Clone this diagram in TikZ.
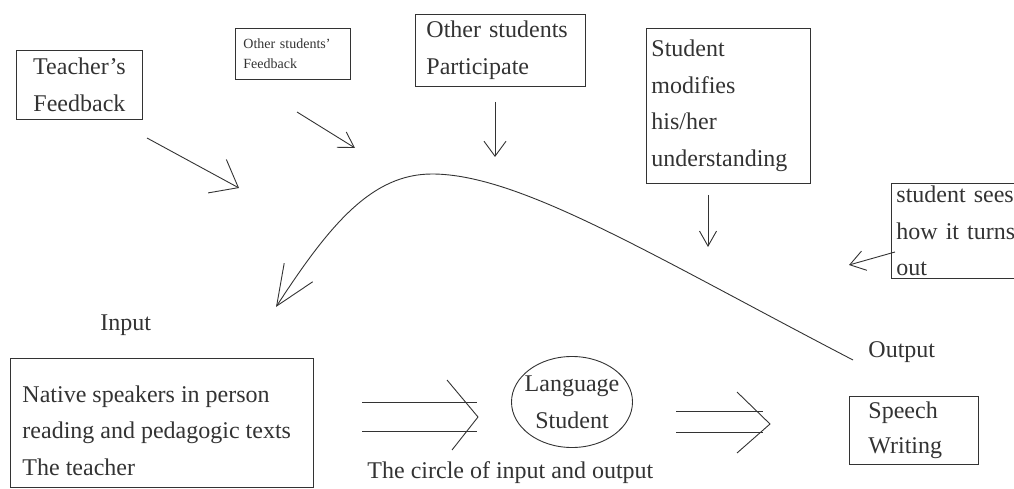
\documentclass[tikz,border=0pt]{standalone}
\usepackage{fontspec}
\setmainfont{Liberation Serif}
\usetikzlibrary{arrows.meta,shapes.geometric}

\begin{document}
\begin{tikzpicture}[x=1pt,y=-1pt,line width=0.9pt,color=black!80,
    box/.style ={draw, inner ysep=0pt, anchor=north west, align=left,
                 font=\fontsize{24}{36.5}\selectfont},
    lbl/.style ={anchor=base west, inner sep=0pt, font=\fontsize{24}{29}\selectfont}]
  \useasboundingbox (0,0) rectangle (1014,489);

  % boxes round the top
  \node[box, align=center, inner xsep=0pt, minimum width=126pt, minimum height=69pt,
        font=\fontsize{24}{37}\selectfont] (teacher) at (16,50) {Teacher's\\Feedback};
  \node[box, text width=99pt, inner xsep=8pt, minimum height=51pt,
        font=\fontsize{14}{20}\selectfont] (ofeed) at (235,28) {Other students'\\Feedback};
  \node[box, text width=148pt, inner xsep=11pt, minimum height=72pt,
        font=\fontsize{24}{37}\selectfont] (partic) at (415,14) {Other students\\Participate};
  \node[box, text width=154pt, inner xsep=5pt, minimum height=155pt]
        (modify) at (646,28) {Student\\modifies\\his/her\\understanding};
  \node[box, text width=139pt, inner xsep=5pt, minimum height=95pt]
        (sees) at (891,183) {student sees\\how it turns\\out};

  % input, student, output
  \node[lbl] (input) at (100,330) {Input};
  \node[box, minimum width=303pt, minimum height=129pt] (inbox) at (10,358) {};
  \node[anchor=west, align=left, inner sep=0pt, font=\fontsize{24}{36.5}\selectfont]
        (intext) at ([xshift=12pt,yshift=-7.5pt]inbox.west)
        {Native speakers in person\\reading and pedagogic texts\\The teacher};
  \node[ellipse, draw, minimum width=121pt, minimum height=91pt, inner sep=-8pt,
        align=center, font=\fontsize{24}{37}\selectfont] (lang) at (572,402) {Language\\Student};
  \node[lbl] (caption) at (367,478) {The circle of input and output};
  \node[lbl] (output) at (868,357) {Output};
  \node[box, text width=91pt, inner xsep=19pt, minimum height=68pt,
        font=\fontsize{24}{35}\selectfont] (speech) at (849,396) {Speech\\Writing};

  % free ends of the small arrows
  \coordinate (teachA) at (147,138);  \coordinate (teachB) at (239,188);
  \coordinate (ofeedA) at (297,112);  \coordinate (ofeedB) at (355,148);
  \coordinate (particA) at (495,102); \coordinate (particB) at (495,157);
  \coordinate (modifyA) at (708,195); \coordinate (modifyB) at (708,247);
  \coordinate (seesA) at (895,252);   \coordinate (seesB) at (849,265);

  \draw[-{Straight Barb[length=24pt,width=38pt]}] (teachA) -- (teachB);
  \draw[-{Straight Barb[length=15pt,width=18pt]}] (ofeedA) -- (ofeedB);
  \draw[-{Straight Barb[length=15pt,width=22pt]}] (particA) -- (particB);
  \draw[-{Straight Barb[length=15pt,width=17pt]}] (modifyA) -- (modifyB);
  \draw[-{Straight Barb[length=15pt,width=20pt]}] (seesA) -- (seesB);

  % the big loop from output back to input
  \coordinate (loopA) at (853,360);
  \coordinate (peak) at (432,174);
  \coordinate (loopB) at (276,307);
  \draw[-{Straight Barb[length=40pt,width=34pt]}] (loopA)
      .. controls (653,256) and (520,174) .. (peak)
      .. controls (372,174) and (330,224) .. (loopB);

  % double arrows
  \coordinate (inA1) at (362,402); \coordinate (inB1) at (477,402);
  \coordinate (inA2) at (362,431); \coordinate (inB2) at (477,431);
  \draw (inA1) -- (inB1);
  \draw (inA2) -- (inB2);
  \draw (447,380) -- (478,417) -- (452,450);
  \coordinate (outA1) at (676,411); \coordinate (outB1) at (763,411);
  \coordinate (outA2) at (676,432); \coordinate (outB2) at (763,432);
  \draw (outA1) -- (outB1);
  \draw (outA2) -- (outB2);
  \draw (737,392) -- (770,424) -- (737,453);
\end{tikzpicture}
\end{document}
